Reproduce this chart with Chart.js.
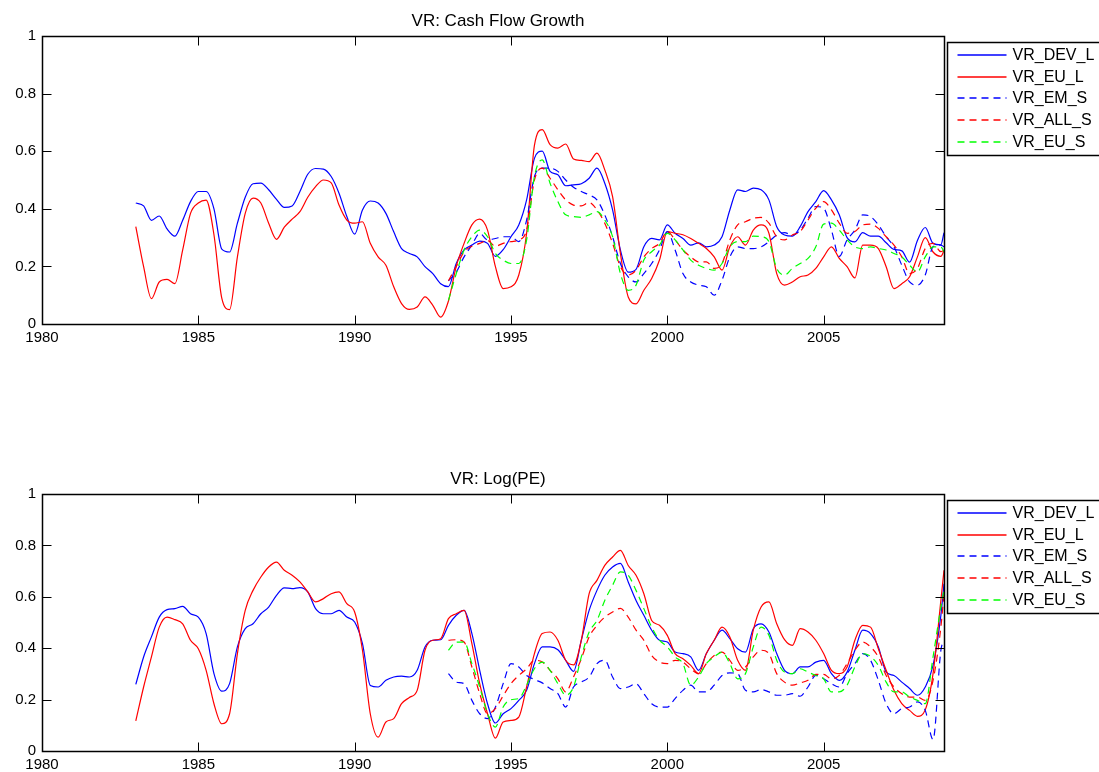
<!DOCTYPE html>
<html>
<head>
<meta charset="utf-8">
<title>VR</title>
<script src="https://cdn.jsdelivr.net/npm/chart.js@4.4.0/dist/chart.umd.min.js"></script>
<style>
  html, body { margin: 0; padding: 0; background: #fff; }
  #wrap { position: relative; width: 1099px; height: 772px; overflow: hidden; background: #fff; }
  canvas { position: absolute; left: 0; }
</style>
</head>
<body>
<div id="wrap">
  <canvas id="cfChart" width="1099" height="386" style="top:0"></canvas>
  <canvas id="peChart" width="1099" height="386" style="top:386px"></canvas>
</div>
<script>
var FONT = 'Arial, "Liberation Sans", Helvetica, sans-serif';

// quarterly dates (decimal years), last point is Nov 2008
var dates = [
  1983.00, 1983.25, 1983.50, 1983.75,
  1984.00, 1984.25, 1984.50, 1984.75,
  1985.00, 1985.25, 1985.50, 1985.75,
  1986.00, 1986.25, 1986.50, 1986.75,
  1987.00, 1987.25, 1987.50, 1987.75,
  1988.00, 1988.25, 1988.50, 1988.75,
  1989.00, 1989.25, 1989.50, 1989.75,
  1990.00, 1990.25, 1990.50, 1990.75,
  1991.00, 1991.25, 1991.50, 1991.75,
  1992.00, 1992.25, 1992.50, 1992.75,
  1993.00, 1993.25, 1993.50, 1993.75,
  1994.00, 1994.25, 1994.50, 1994.75,
  1995.00, 1995.25, 1995.50, 1995.75,
  1996.00, 1996.25, 1996.50, 1996.75,
  1997.00, 1997.25, 1997.50, 1997.75,
  1998.00, 1998.25, 1998.50, 1998.75,
  1999.00, 1999.25, 1999.50, 1999.75,
  2000.00, 2000.25, 2000.50, 2000.75,
  2001.00, 2001.25, 2001.50, 2001.75,
  2002.00, 2002.25, 2002.50, 2002.75,
  2003.00, 2003.25, 2003.50, 2003.75,
  2004.00, 2004.25, 2004.50, 2004.75,
  2005.00, 2005.25, 2005.50, 2005.75,
  2006.00, 2006.25, 2006.50, 2006.75,
  2007.00, 2007.25, 2007.50, 2007.75,
  2008.00, 2008.25, 2008.50, 2008.75, 2008.85
];

var seriesNames = ['VR_DEV_L', 'VR_EU_L', 'VR_EM_S', 'VR_ALL_S', 'VR_EU_S'];
var seriesColors = ['#0000ff', '#ff0000', '#0000ff', '#ff0000', '#00ff00'];
var seriesDash = [[], [], [7, 5], [7, 5], [7, 5]];

var xTicks = [1980, 1985, 1990, 1995, 2000, 2005];
var yTicks = [0, 0.2, 0.4, 0.6, 0.8, 1];
var xMin = 1980, xMax = 2008.85;

// ---- Cash flow growth (long series from 1983, short series from 1993)
var cfDevL = [
  0.42, 0.41, 0.36, 0.375,   0.33, 0.305, 0.36, 0.425,   0.46, 0.46, 0.40, 0.26,
  0.25, 0.35, 0.44, 0.487,   0.489, 0.466, 0.433, 0.405,  0.41, 0.46, 0.52, 0.54,
  0.538, 0.512, 0.454, 0.373, 0.312, 0.396, 0.427, 0.42,  0.384, 0.32, 0.262, 0.245,
  0.233, 0.199, 0.175, 0.14,  0.13, 0.21, 0.257, 0.274,   0.288, 0.28, 0.235, 0.258,
  0.303, 0.344, 0.431, 0.575, 0.60, 0.53, 0.518, 0.48,    0.483, 0.487, 0.506, 0.541,
  0.489, 0.396, 0.257, 0.18,  0.19, 0.268, 0.297, 0.292,  0.344, 0.315, 0.297, 0.274,
  0.282, 0.268, 0.274, 0.303, 0.396, 0.466, 0.46, 0.472,  0.466, 0.431, 0.338, 0.309,
  0.305, 0.338, 0.39, 0.425,  0.463, 0.431, 0.379, 0.30,  0.285, 0.317, 0.305, 0.305,
  0.282, 0.259, 0.254, 0.215, 0.29, 0.335, 0.28, 0.275, 0.317
];
var cfEuL = [
  0.338, 0.199, 0.088, 0.146, 0.155, 0.14, 0.257, 0.384,  0.42, 0.43, 0.31, 0.09,
  0.05, 0.233, 0.384, 0.437,  0.42, 0.35, 0.294, 0.336,   0.364, 0.39, 0.44, 0.477,
  0.50, 0.49, 0.413, 0.361,   0.35, 0.355, 0.28, 0.233,   0.204, 0.129, 0.071, 0.051,
  0.059, 0.094, 0.065, 0.024, 0.08, 0.20, 0.28, 0.344,    0.364, 0.326, 0.20, 0.123,
  0.129, 0.17, 0.315, 0.62,   0.675, 0.623, 0.611, 0.625, 0.573, 0.568, 0.564, 0.593,
  0.535, 0.442, 0.245, 0.094, 0.07, 0.117, 0.158, 0.222,  0.321, 0.315, 0.31, 0.297,
  0.28, 0.262, 0.233, 0.187,  0.268, 0.303, 0.274, 0.326, 0.344, 0.315, 0.175, 0.135,
  0.146, 0.164, 0.17, 0.193,  0.233, 0.268, 0.228, 0.199, 0.16, 0.274, 0.274, 0.262,
  0.199, 0.123, 0.14, 0.164,  0.233, 0.30, 0.25, 0.235, 0.255
];
var cfEmS = [
  0.15, 0.18, 0.233, 0.274,   0.315, 0.292, 0.297, 0.303, 0.303, 0.286, 0.361, 0.512,
  0.541, 0.541, 0.53, 0.50,   0.475, 0.46, 0.448, 0.431,  0.379, 0.303, 0.21, 0.164,
  0.146, 0.175, 0.21, 0.257,  0.321, 0.257, 0.175, 0.146, 0.135, 0.129, 0.10, 0.152,
  0.233, 0.268, 0.262, 0.262, 0.268, 0.286, 0.309, 0.317, 0.309, 0.326, 0.367, 0.408,
  0.402, 0.326, 0.235, 0.292, 0.326, 0.379, 0.373, 0.344, 0.303, 0.268, 0.204, 0.146,
  0.135, 0.17, 0.268, 0.274, 0.268
];
var cfAllS = [
  0.15, 0.20, 0.25, 0.27,     0.28, 0.29, 0.27, 0.28,     0.286, 0.292, 0.326, 0.50,
  0.541, 0.506, 0.466, 0.431, 0.413, 0.41, 0.422, 0.396,  0.35, 0.28, 0.199, 0.17,
  0.187, 0.233, 0.262, 0.28,  0.321, 0.292, 0.257, 0.233, 0.216, 0.216, 0.193, 0.21,
  0.292, 0.344, 0.355, 0.367, 0.37, 0.35, 0.303, 0.292,   0.309, 0.321, 0.361, 0.402,
  0.425, 0.396, 0.35, 0.315,  0.321, 0.344, 0.347, 0.332, 0.303, 0.274, 0.233, 0.175,
  0.193, 0.262, 0.28, 0.251, 0.257
];
var cfEuS = [
  0.082, 0.175, 0.257, 0.303, 0.326, 0.303, 0.245, 0.222, 0.21, 0.21, 0.292, 0.512,
  0.57, 0.489, 0.425, 0.379,  0.373, 0.37, 0.379, 0.39,   0.361, 0.303, 0.175, 0.117,
  0.135, 0.222, 0.251, 0.274, 0.315, 0.292, 0.257, 0.222, 0.204, 0.193, 0.187, 0.21,
  0.268, 0.286, 0.286, 0.305, 0.303, 0.286, 0.193, 0.17,  0.193, 0.21, 0.228, 0.268,
  0.347, 0.35, 0.326, 0.292,  0.268, 0.262, 0.268, 0.262, 0.257, 0.245, 0.233, 0.204,
  0.181, 0.233, 0.268, 0.268, 0.251
];

// ---- Log(PE)
var peDevL = [
  0.259, 0.366, 0.444, 0.521, 0.55, 0.554, 0.563, 0.534,  0.521, 0.457, 0.301, 0.233,
  0.262, 0.405, 0.476, 0.495, 0.534, 0.56, 0.606, 0.635,  0.632, 0.636, 0.619, 0.554,
  0.534, 0.534, 0.547, 0.521, 0.502, 0.418, 0.255, 0.249, 0.275, 0.288, 0.291, 0.288,
  0.314, 0.405, 0.431, 0.433, 0.489, 0.528, 0.547, 0.457, 0.314, 0.184, 0.109, 0.145,
  0.165, 0.197, 0.236, 0.34,  0.405, 0.405, 0.394, 0.353, 0.31, 0.431, 0.547, 0.625,
  0.684, 0.716, 0.73, 0.658,  0.586, 0.528, 0.47, 0.431,  0.424, 0.385, 0.379, 0.366,
  0.314, 0.379, 0.431, 0.47,  0.437, 0.398, 0.385, 0.476, 0.495, 0.463, 0.379, 0.314,
  0.301, 0.327, 0.327, 0.346, 0.353, 0.301, 0.275, 0.307, 0.392, 0.47, 0.457, 0.405,
  0.307, 0.294, 0.268, 0.243, 0.217, 0.249, 0.333, 0.528, 0.651
];
var peEuL = [
  0.117, 0.249, 0.366, 0.482, 0.521, 0.511, 0.495, 0.431, 0.398, 0.314, 0.184, 0.106,
  0.145, 0.379, 0.547, 0.625, 0.677, 0.716, 0.735, 0.703, 0.684, 0.658, 0.619, 0.58,
  0.593, 0.612, 0.619, 0.573, 0.541, 0.392, 0.145, 0.054, 0.113, 0.126, 0.184, 0.208,
  0.236, 0.392, 0.431, 0.437, 0.515, 0.534, 0.547, 0.418, 0.262, 0.145, 0.05, 0.113,
  0.119, 0.132, 0.249, 0.379, 0.457, 0.463, 0.431, 0.353, 0.335, 0.431, 0.612, 0.664,
  0.722, 0.755, 0.781, 0.722, 0.684, 0.612, 0.508, 0.489, 0.45, 0.379, 0.359, 0.333,
  0.301, 0.379, 0.431, 0.482, 0.444, 0.353, 0.314, 0.47,  0.56, 0.58, 0.495, 0.433,
  0.411, 0.476, 0.463, 0.431, 0.379, 0.314, 0.301, 0.327, 0.431, 0.489, 0.482, 0.398,
  0.314, 0.236, 0.184, 0.158, 0.135, 0.16, 0.301, 0.586, 0.703
];
var peEmS = [
  0.301, 0.268, 0.262, 0.197, 0.145, 0.126, 0.17, 0.262,  0.34, 0.327, 0.294, 0.278,
  0.265, 0.243, 0.223, 0.171, 0.249, 0.268, 0.288, 0.34,  0.353, 0.288, 0.243, 0.249,
  0.262, 0.223, 0.184, 0.171, 0.171, 0.204, 0.236, 0.256, 0.23, 0.23, 0.256, 0.294,
  0.304, 0.301, 0.236, 0.23,  0.239, 0.23, 0.217, 0.217,  0.223, 0.213, 0.249, 0.294,
  0.281, 0.262, 0.249, 0.301, 0.34, 0.379, 0.353, 0.275,  0.184, 0.145, 0.165, 0.171,
  0.191, 0.158, 0.045, 0.392, 0.43
];
var peAllS = [
  0.431, 0.433, 0.424, 0.327, 0.223, 0.145, 0.165, 0.215, 0.262, 0.294, 0.32, 0.353,
  0.346, 0.314, 0.281, 0.23,  0.288, 0.359, 0.444, 0.489, 0.521, 0.541, 0.555, 0.521,
  0.47, 0.431, 0.372, 0.346,  0.34, 0.353, 0.346, 0.32,   0.301, 0.34, 0.372, 0.385,
  0.353, 0.314, 0.327, 0.366, 0.392, 0.379, 0.301, 0.268, 0.256, 0.265, 0.275, 0.298,
  0.298, 0.281, 0.294, 0.34,  0.392, 0.424, 0.405, 0.366, 0.294, 0.249, 0.223, 0.21,
  0.21, 0.197, 0.275, 0.482, 0.612
];
var peEuS = [
  0.392, 0.424, 0.424, 0.34,  0.249, 0.145, 0.093, 0.171, 0.20, 0.204, 0.256, 0.32,
  0.346, 0.314, 0.262, 0.217, 0.249, 0.366, 0.463, 0.508, 0.586, 0.645, 0.697, 0.684,
  0.625, 0.554, 0.482, 0.431, 0.405, 0.366, 0.34, 0.256,  0.288, 0.34, 0.366, 0.385,
  0.34, 0.281, 0.301, 0.405,  0.482, 0.45, 0.353, 0.307,  0.301, 0.32, 0.307, 0.294,
  0.281, 0.23, 0.23, 0.256,   0.327, 0.379, 0.368, 0.333, 0.268, 0.23, 0.23, 0.21,
  0.197, 0.184, 0.366, 0.56, 0.625
];

// pair values with dates; shorter series end on the same last date
function pairs(ys) {
  var off = dates.length - ys.length;
  return ys.map(function (y, i) { return { x: dates[off + i], y: y }; });
}

// box, inward ticks on all four sides, title and boxed legend
var matlabAxes = {
  id: 'matlabAxes',
  afterDraw: function (chart, args, opts) {
    var ctx = chart.ctx, a = chart.chartArea;
    var xs = chart.scales.x, ys = chart.scales.y;
    var L = Math.round(a.left) + 0.5, R = Math.round(a.right) + 0.5;
    var T = Math.round(a.top) + 0.5, B = Math.round(a.bottom) + 0.5;
    ctx.save();
    ctx.strokeStyle = '#000';
    ctx.lineWidth = 1;
    ctx.beginPath();
    xs.ticks.forEach(function (t) {
      var p = Math.round(xs.getPixelForValue(t.value)) + 0.5;
      ctx.moveTo(p, B); ctx.lineTo(p, B - 9);
      ctx.moveTo(p, T); ctx.lineTo(p, T + 9);
    });
    ys.ticks.forEach(function (t) {
      var p = Math.round(ys.getPixelForValue(t.value)) + 0.5;
      ctx.moveTo(L, p); ctx.lineTo(L + 9, p);
      ctx.moveTo(R, p); ctx.lineTo(R - 9, p);
    });
    ctx.stroke();
    ctx.lineWidth = 1.5;
    ctx.strokeRect(L, T, R - L, B - T);

    ctx.fillStyle = '#000';
    ctx.font = '17px ' + FONT;
    ctx.textAlign = 'center';
    ctx.textBaseline = 'alphabetic';
    ctx.fillText(opts.text, (a.left + a.right) / 2 + 5, a.top - 10);

    var lx = R + 3, ly = T + 6;
    ctx.fillStyle = '#fff';
    ctx.fillRect(lx, ly, 200, 113);
    ctx.strokeStyle = '#000';
    ctx.lineWidth = 1.5;
    ctx.strokeRect(lx, ly, 200, 113);
    ctx.font = '16px ' + FONT;
    ctx.textAlign = 'left';
    ctx.textBaseline = 'middle';
    seriesNames.forEach(function (name, i) {
      var ry = Math.round(ly + 12.5 + i * 21.7);
      ctx.lineWidth = 1.6;
      ctx.strokeStyle = seriesColors[i];
      ctx.setLineDash(seriesDash[i]);
      ctx.beginPath();
      ctx.moveTo(lx + 10, ry);
      ctx.lineTo(lx + 59, ry);
      ctx.stroke();
      ctx.setLineDash([]);
      ctx.fillStyle = '#000';
      ctx.fillText(name, lx + 65, ry + 1);
    });
    ctx.restore();
  }
};

function makeChart(id, title, series, top, xHeight) {
  var datasets = series.map(function (ys, i) {
    return {
      label: seriesNames[i],
      data: pairs(ys),
      borderColor: seriesColors[i],
      borderDash: seriesDash[i],
      borderWidth: 1.2,
      pointRadius: 0,
      fill: false,
      cubicInterpolationMode: 'monotone',
      order: series.length - i
    };
  });
  return new Chart(document.getElementById(id), {
    type: 'line',
    data: { datasets: datasets },
    plugins: [matlabAxes],
    options: {
      responsive: false,
      animation: false,
      devicePixelRatio: 1,
      layout: { padding: { left: 0, top: top, right: 155, bottom: 0 } },
      plugins: {
        legend: { display: false },
        tooltip: { enabled: false },
        matlabAxes: { text: title }
      },
      scales: {
        x: {
          type: 'linear',
          min: xMin,
          max: xMax,
          afterBuildTicks: function (s) { s.ticks = xTicks.map(function (v) { return { value: v }; }); },
          afterFit: function (s) { s.height = xHeight; },
          grid: { display: false, drawTicks: false },
          border: { display: false },
          ticks: {
            color: '#000',
            font: { family: FONT, size: 15 },
            padding: 5,
            maxRotation: 0,
            autoSkip: false,
            callback: function (v) { return String(v); }
          }
        },
        y: {
          min: 0,
          max: 1,
          afterBuildTicks: function (s) { s.ticks = yTicks.map(function (v) { return { value: v }; }); },
          afterFit: function (s) { s.width = 42; },
          grid: { display: false, drawTicks: false },
          border: { display: false },
          ticks: {
            color: '#000',
            font: { family: FONT, size: 15 },
            padding: 6,
            callback: function (v) { return String(Math.round(v * 10) / 10); }
          }
        }
      }
    }
  });
}

makeChart('cfChart', 'VR: Cash Flow Growth', [cfDevL, cfEuL, cfEmS, cfAllS, cfEuS], 36, 62);
makeChart('peChart', 'VR: Log(PE)', [peDevL, peEuL, peEmS, peAllS, peEuS], 108, 21);
</script>
</body>
</html>
